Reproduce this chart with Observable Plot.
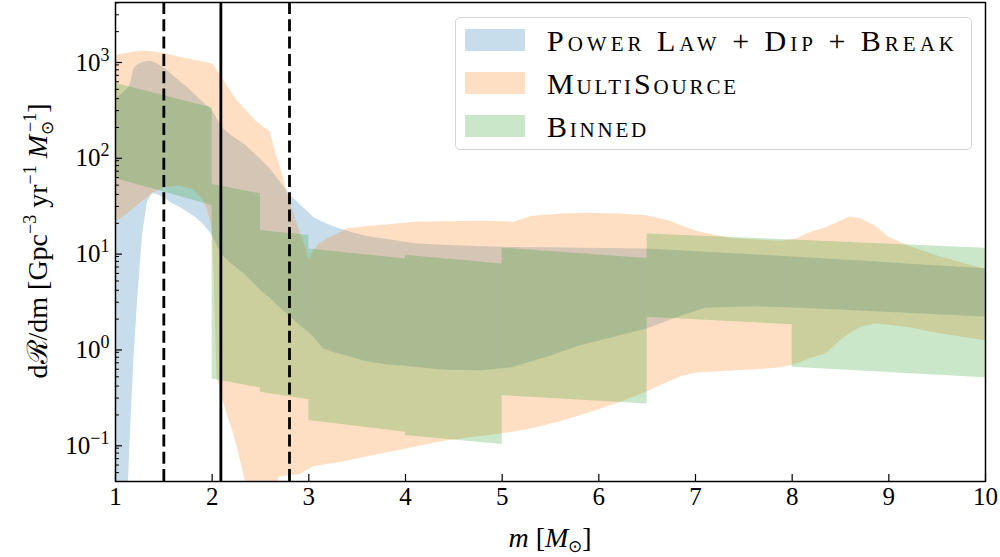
<!DOCTYPE html>
<html><head><meta charset="utf-8">
<script src="https://cdn.jsdelivr.net/npm/d3@7"></script>
<script src="https://cdn.jsdelivr.net/npm/@observablehq/plot@0.6"></script>
<style>
body{margin:0;background:#fff;}
#wrap{position:relative;width:1000px;height:557px;font-family:"Liberation Serif",serif;}
#legend{position:absolute;left:455px;top:17px;width:517px;height:133px;box-sizing:border-box;border:1.3px solid #d4d4d4;border-radius:5px;background:rgba(255,255,255,0.8);}
.row{position:absolute;left:9px;height:22px;display:flex;align-items:center;}
.sw{width:60px;height:22px;flex:none;}
.lab{margin-left:22px;font-size:30px;font-variant:small-caps;line-height:22px;white-space:nowrap;color:#000;position:relative;top:1px;}
</style></head><body><div id="wrap"></div>
<script>
// ---- series names and colours ----
const seriesNames = ["Power Law + Dip + Break", "MultiSource", "Binned"];
const bandColors = ["#1f77b4", "#ff7f0e", "#2ca02c"];

// ---- Power Law + Dip + Break (90% band) ----
const plMass  = [1.0,1.06,1.1,1.134,1.16,1.19,1.23,1.28,1.33,1.38,1.43,1.5,1.57,1.66,1.75,1.83,1.91,2.0,2.1,2.2,2.35,2.5,2.6,2.7,2.8,2.9,3.0,3.05,3.15,3.25,3.4,3.6,3.8,4.1,4.4,4.8,5.1,5.5,5.8,6.1,6.5,6.8,7.1,7.6,8.1,8.8,9.4,10];
const plUpper = [400,440,480,520,590,820,900,950,980,975,925,840,735,615,520,431,365,305,200,165,130,93,74,55,40,32,26,23,20.5,18.5,16.5,14.6,13.6,12.2,11.8,11.4,11.2,11.1,11,10.9,10.8,10.4,10,9.4,8.8,8,7.3,6.7];
const plLower = [0.0001,0.002,0.012,0.04,0.17,0.73,3.3,15,33,40.6,40,37,33,29.5,26,23,19.5,15,9.4,7.5,5.7,4.0,3.3,2.65,2.15,1.75,1.45,1.3,0.98,0.9,0.82,0.72,0.67,0.63,0.585,0.58,0.62,0.82,1.05,1.25,1.58,2.05,2.6,2.7,2.6,2.4,2.25,2.1];

// ---- MultiSource (90% band) ----
const msMass  = [1.0,1.1,1.2,1.3,1.38,1.5,1.66,1.8,1.9,1.95,2.0,2.02,2.05,2.1,2.15,2.2,2.26,2.34,2.45,2.55,2.6,2.65,2.7,2.78,2.85,2.92,2.97,3.0,3.04,3.1,3.2,3.3,3.4,3.6,3.8,4.1,4.4,4.8,5.0,5.12,5.3,5.6,5.9,6.2,6.5,6.7,6.85,7.0,7.2,7.4,7.7,7.9,8.05,8.2,8.35,8.5,8.6,8.7,8.85,9.0,9.2,9.5,9.8,10];
const msUpper = [1120,1180,1230,1250,1235,1190,1080,1010,970,950,920,880,790,680,560,465,380,310,235,195,180,115,80,42,24,15,11,8.3,9.8,12,14,15.5,17.5,18.5,19.2,20.5,20.8,21,20.8,20.5,23.5,25,25.5,25,24,21.5,19,16.6,15,13.8,13.3,13,13.8,16.2,18,21,23.2,22.5,19,14.3,11.6,9.1,7.5,6.6];
const msLower = [20.5,24,29,35,41,47,49,45,36,28,18,6,0.5,0.32,0.21,0.15,0.092,0.042,0.028,0.03,0.032,0.036,0.045,0.046,0.047,0.048,0.052,0.054,0.057,0.059,0.061,0.063,0.066,0.073,0.08,0.092,0.106,0.12,0.127,0.133,0.143,0.17,0.21,0.265,0.35,0.43,0.5,0.545,0.56,0.575,0.6,0.62,0.68,0.78,0.87,1.19,1.42,1.62,1.78,1.73,1.64,1.42,1.28,1.19];

// ---- Binned (90% band, one segment per bin) ----
const binStart      = [1, 2, 2.5, 3, 4, 5, 6.5, 8];
const binEnd        = [2, 2.5, 3, 4, 5, 6.5, 8, 10];
const binUpperStart = [580, 50.8, 16.8, 10.8, 9.3, 11, 15.5, 13.4];
const binUpperEnd   = [320, 40.6, 14.9, 8.5, 7.5, 8.6, 13.4, 11];
const binLowerStart = [58.6, 0.475, 0.345, 0.175, 0.122, 0.318, 2.09, 0.63];
const binLowerEnd   = [30.6, 0.383, 0.288, 0.132, 0.098, 0.26, 1.75, 0.49];

// ---- reference lines ----
const dashedLines = [1.5, 2.8];
const solidLines = [2.09];

// ---- axes ----
const xDomain = [1, 10];
const xTicks = [1, 2, 3, 4, 5, 6, 7, 8, 9, 10];
const yDomain = [0.0404, 4030];
const yMajor = [0.1, 1, 10, 100, 1000];
const yMinor = [];
for (let k = -2; k <= 3; k++) for (let j = 2; j <= 9; j++) {
  const v = j * Math.pow(10, k);
  if (v >= yDomain[0] && v <= yDomain[1]) yMinor.push(v);
}

const plRows = plMass.map((m, i) => ({m, lo: plLower[i], hi: plUpper[i]}));
const msRows = msMass.map((m, i) => ({m, lo: msLower[i], hi: msUpper[i]}));
const binRows = binStart.flatMap((s, i) => [
  {m: s, lo: binLowerStart[i], hi: binUpperStart[i], bin: i},
  {m: binEnd[i], lo: binLowerEnd[i], hi: binUpperEnd[i], bin: i}
]);

const chart = Plot.plot({
  width: 1000, height: 557,
  marginLeft: 115, marginRight: 15, marginTop: 2, marginBottom: 76,
  style: {fontFamily: '"Liberation Serif", serif', fontSize: "25px", background: "white", color: "black"},
  x: {domain: xDomain},
  y: {type: "log", domain: yDomain},
  marks: [
    Plot.areaY(plRows, {x: "m", y1: "lo", y2: "hi", fill: bandColors[0], fillOpacity: 0.25, clip: true}),
    Plot.areaY(msRows, {x: "m", y1: "lo", y2: "hi", fill: bandColors[1], fillOpacity: 0.25, clip: true}),
    Plot.areaY(binRows, {x: "m", y1: "lo", y2: "hi", z: "bin", fill: bandColors[2], fillOpacity: 0.25, clip: true}),
    Plot.ruleX(dashedLines, {stroke: "black", strokeWidth: 2.8, strokeDasharray: "12,5.3"}),
    Plot.ruleX(solidLines, {stroke: "black", strokeWidth: 2.8}),
    Plot.axisX(xTicks, {tickSize: -7, tickPadding: 13, label: null, tickFormat: d => String(d), strokeWidth: 1.2}),
    Plot.axisY(yMinor, {tickSize: -4, tickFormat: () => "", label: null, strokeWidth: 1}),
    Plot.axisY(yMajor, {tickSize: -7, tickPadding: 13, dy: 2, label: null, strokeWidth: 1.2,
      tickFormat: d => String(Math.round(Math.log10(d)))}),
    Plot.frame({stroke: "black", strokeWidth: 1.5})
  ]
});

const svg = d3.select(chart);
// superscripted decade labels
svg.selectAll('g[aria-label="y-axis tick label"] text').each(function() {
  const t = this.textContent;
  if (!t) return;
  const s = d3.select(this);
  s.text(null);
  s.append("tspan").text("10");
  s.append("tspan").attr("dy", -10).attr("font-size", 18).text(t.replace("-", "\u2212"));
});

// y title
const yt = svg.append("text")
  .attr("transform", "translate(47,241) rotate(-90)")
  .attr("text-anchor", "middle").attr("font-size", 28).attr("fill", "black");
yt.append("tspan").text("d");
yt.append("tspan").text("\u211B");
yt.append("tspan").text("/dm [Gpc");
yt.append("tspan").attr("dy", -11).attr("font-size", 18).text("\u22123");
yt.append("tspan").attr("dy", 11).text(" yr");
yt.append("tspan").attr("dy", -11).attr("font-size", 18).text("\u22121");
yt.append("tspan").attr("dy", 11).text(" ");
yt.append("tspan").attr("font-style", "italic").text("M");
yt.append("tspan").attr("dy", 6).attr("font-size", 17).text("\u2299");
yt.append("tspan").attr("dy", -17).attr("dx", -11).attr("font-size", 18).text("\u22121");
yt.append("tspan").attr("dy", 11).text("]");

// x title
const xt = svg.append("text")
  .attr("x", 550).attr("y", 547)
  .attr("text-anchor", "middle").attr("font-size", 28).attr("fill", "black");
xt.append("tspan").attr("font-style", "italic").text("m");
xt.append("tspan").text(" [");
xt.append("tspan").attr("font-style", "italic").text("M");
xt.append("tspan").attr("dy", 5).attr("font-size", 17).text("\u2299");
xt.append("tspan").attr("dy", -5).text("]");

const wrap = document.getElementById("wrap");
wrap.appendChild(chart);

// legend (label widths matched to the reference layout)
const legendTextWidths = [411, 192, 102];
const legend = document.createElement("div");
legend.id = "legend";
wrap.appendChild(legend);
seriesNames.forEach((name, i) => {
  const row = document.createElement("div");
  row.className = "row";
  row.style.top = (11 + i * 43) + "px";
  const sw = document.createElement("div");
  sw.className = "sw";
  const c = d3.color(bandColors[i]); c.opacity = 0.25;
  sw.style.background = c.formatRgb();
  const lab = document.createElement("div");
  lab.className = "lab";
  lab.textContent = name;
  row.appendChild(sw); row.appendChild(lab);
  legend.appendChild(row);
  const w = lab.getBoundingClientRect().width;
  const n = name.length;
  const ls = (legendTextWidths[i] - w) / n;
  lab.style.letterSpacing = Math.max(0, ls) + "px";
});
</script></body></html>
